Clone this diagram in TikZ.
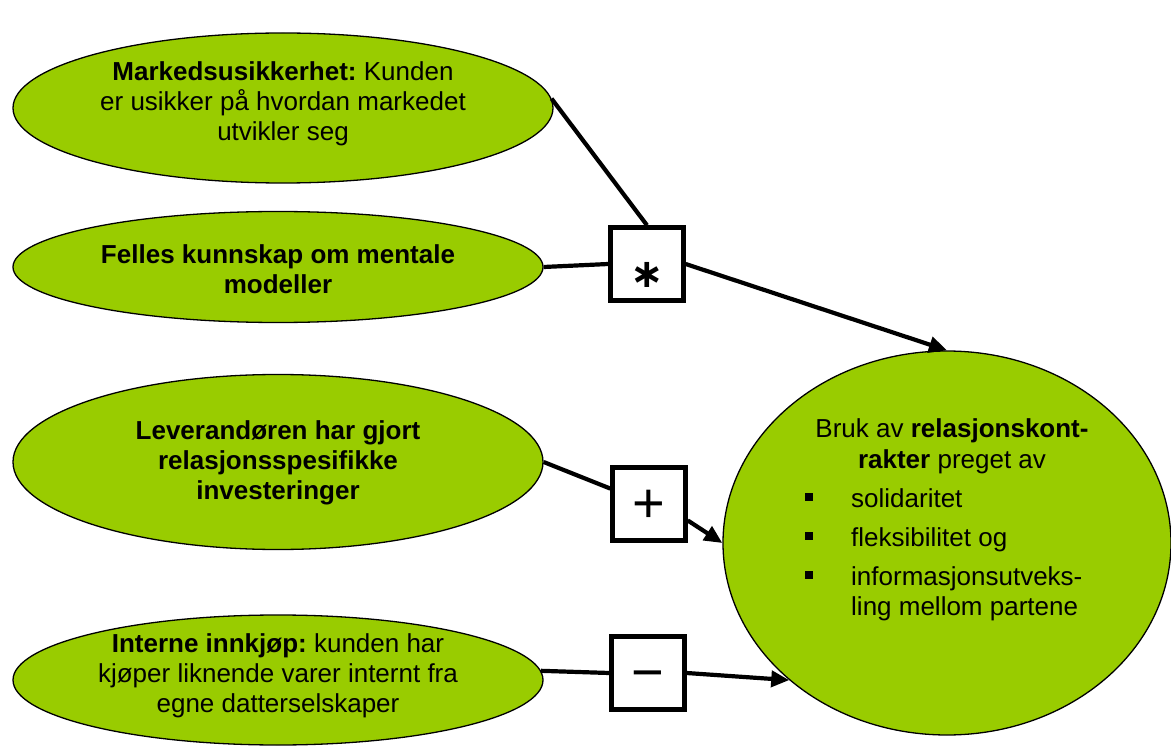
\documentclass[tikz,border=0pt]{standalone}
\usepackage{fontspec}
\setmainfont{Liberation Sans}
\newfontfamily\symbolfont{DejaVu Sans}
\usetikzlibrary{shapes.geometric,arrows.meta}
\definecolor{leaf}{HTML}{99CC00}
\frenchspacing
% square bullet followed by the indent of the item text
\newcommand{\sqbullet}{\makebox[46pt][l]{\raisebox{6pt}{\rule{8pt}{8pt}}}}
\begin{document}
\begin{tikzpicture}[x=1pt,y=-1pt,
  blob/.style={ellipse, draw=black, line width=1.3pt, fill=leaf, inner sep=0pt},
  txt/.style={align=center, font=\fontsize{26}{30}\selectfont},
  opbox/.style={draw=black, line width=4.4pt, fill=white, minimum size=73pt, inner sep=0pt},
  opsign/.style={font=\fontsize{56}{56}\selectfont},
  link/.style={line width=4.2pt},
  arrowlink/.style={line width=4.2pt, -{Triangle[length=18pt,width=16pt]}}]
\useasboundingbox (0,0) rectangle (1171,746);

% driver ellipses on the left
\node[blob, minimum width=540pt, minimum height=150pt] (e1) at (283,108) {};
\node[txt] (e1t) at (283,104) {\textbf{Markedsusikkerhet:} Kunden\\er usikker på hvordan markedet\\utvikler seg};

\node[blob, minimum width=530pt, minimum height=111pt] (e2) at (278,267) {};
\node[txt] (e2t) at (278,269) {\textbf{Felles kunnskap om mentale}\\\textbf{modeller}};

\node[blob, minimum width=530pt, minimum height=175pt] (e3) at (278,462) {};
\node[txt] (e3t) at (278,463) {\textbf{Leverandøren har gjort}\\\textbf{relasjonsspesifikke}\\\textbf{investeringer}};

\node[blob, minimum width=530pt, minimum height=130pt] (e4) at (278,680) {};
\node[txt] (e4t) at (278,676) {\textbf{Interne innkjøp:} kunden har\\kjøper liknende varer internt fra\\egne datterselskaper};

% outcome ellipse on the right
\node[blob, minimum width=448pt, minimum height=384pt] (big) at (947,543) {};
\node[txt, anchor=base] (h1) at (952,437) {Bruk av \textbf{relasjonskont-}};
\node[txt, anchor=base] (h2) at (952,468) {\textbf{rakter} preget av};
\node[txt, anchor=base west, inner sep=0pt] (b1) at (805,507) {\sqbullet solidaritet};
\node[txt, anchor=base west, inner sep=0pt] (b2) at (805,546) {\sqbullet fleksibilitet og};
\node[txt, anchor=base west, inner sep=0pt] (b3) at (805,585) {\sqbullet informasjonsutveks-};
\node[txt, anchor=base west, inner sep=0pt] (b3b) at (851,615) {ling mellom partene};

% operator boxes
\node[opbox] (star) at (647,264) {};
\node[font=\symbolfont\bfseries\fontsize{40}{40}\selectfont, anchor=base] (startxt) at (647,288) {∗};
\node[opbox] (plus) at (649,504) {};
\node[opsign] (plustxt) at (649,506) {+\vphantom{+}};
\node[opbox] (minus) at (648,673) {};
\node[opsign] (minustxt) at (648,675) {−\vphantom{+}};

% connectors
\draw[link] (e1.2) -- (star.north);
\draw[link] (e2.east) -- (star.west);
\draw[arrowlink] (star.east) -- (big.north);
\draw[link] (e3.east) -- (plus);
\draw[arrowlink] (plus.-23) -- (big.west);
\draw[link] (e4.2) -- (minus.west);
\draw[arrowlink] (minus.east) -- (big.221);
\end{tikzpicture}
\end{document}
